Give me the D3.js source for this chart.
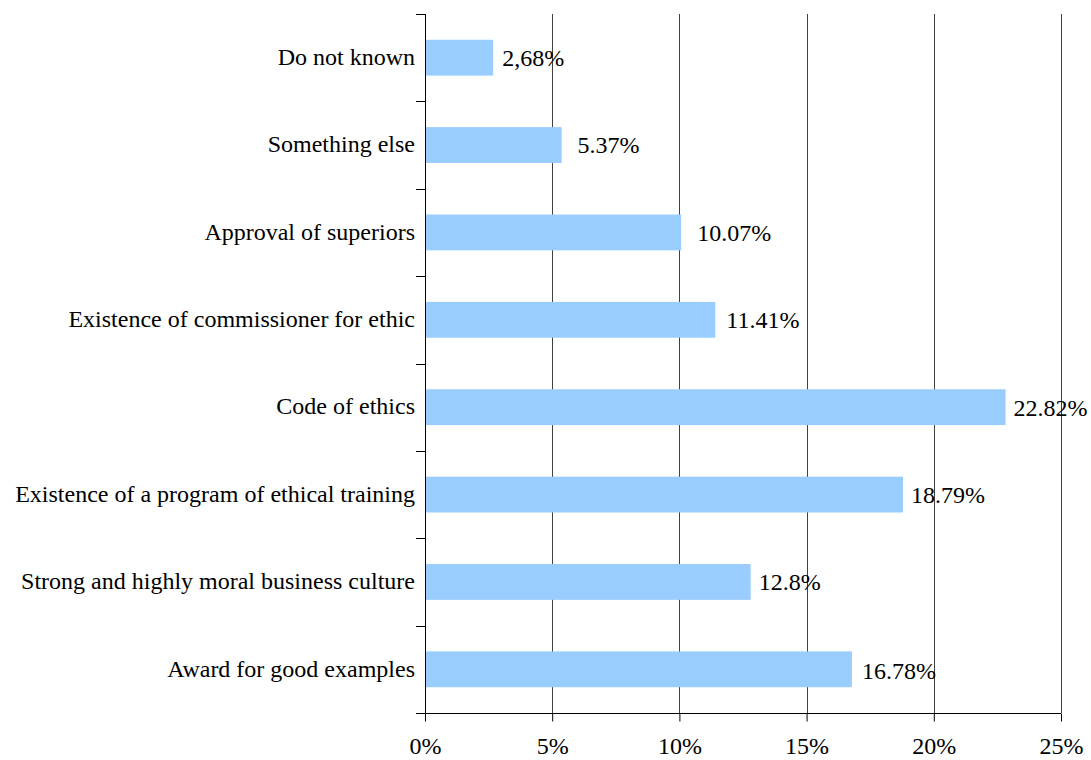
<!DOCTYPE html>
<html>
<head>
<meta charset="utf-8">
<script src="https://cdn.jsdelivr.net/npm/d3@7"></script>
<style>
  html, body { margin: 0; padding: 0; background: #ffffff; }
  svg { display: block; }
</style>
</head>
<body>
<svg id="chart" width="1091" height="760"></svg>
<script>
// Factors named in the survey, top to bottom
const categories = [
  "Do not known",
  "Something else",
  "Approval of superiors",
  "Existence of commissioner for ethic",
  "Code of ethics",
  "Existence of a program of ethical training",
  "Strong and highly moral business culture",
  "Award for good examples"
];
// Share of respondents (%)
const values = [2.68, 5.37, 10.07, 11.41, 22.82, 18.79, 12.8, 16.78];
// Value labels as printed
const valueLabels = ["2,68%", "5.37%", "10.07%", "11.41%", "22.82%", "18.79%", "12.8%", "16.78%"];
// Axis ticks
const tickValues = [0, 5, 10, 15, 20, 25];
const tickLabels = ["0%", "5%", "10%", "15%", "20%", "25%"];

const FONT = "'Liberation Serif', Tinos, 'Times New Roman', Times, 'Nimbus Roman', 'DejaVu Serif', serif";
const fontSize = 24;

const svg = d3.select("#chart");
const margin = { left: 425, right: 30, top: 14, bottom: 47 };
const W = 1091, H = 760;

const x = d3.scaleLinear().domain([0, 25]).range([margin.left, W - margin.right]);
const y = d3.scaleBand().domain(categories).range([margin.top, H - margin.bottom])
  .paddingInner(0.59).paddingOuter(0.295);

// Vertical gridlines
svg.append("g")
  .selectAll("line")
  .data(tickValues.slice(1))
  .join("line")
  .attr("x1", d => Math.round(x(d)) + 0.5)
  .attr("x2", d => Math.round(x(d)) + 0.5)
  .attr("y1", margin.top)
  .attr("y2", H - margin.bottom)
  .attr("stroke", "#404040")
  .attr("stroke-width", 1);

// Bars
svg.append("g")
  .selectAll("rect")
  .data(categories)
  .join("rect")
  .attr("x", x(0))
  .attr("y", d => y(d))
  .attr("width", (d, i) => x(values[i]) - x(0))
  .attr("height", y.bandwidth())
  .attr("fill", "#99CCFF");

// Bottom axis
const xAxis = d3.axisBottom(x)
  .tickValues(tickValues)
  .tickFormat((d, i) => tickLabels[i])
  .tickSize(8)
  .tickPadding(15);
const gx = svg.append("g")
  .attr("transform", `translate(0,${Math.round(H - margin.bottom) + 0.5})`)
  .call(xAxis);
gx.attr("font-family", FONT).attr("font-size", fontSize);
gx.select(".domain").attr("d", `M${margin.left - 9},0H${x(25)}`).attr("stroke", "#000");
gx.selectAll(".tick line").attr("stroke", "#000");
gx.selectAll(".tick text")
  .attr("font-family", FONT)
  .attr("font-size", fontSize)
  .attr("fill", "#000");

// Left axis: line with ticks at category boundaries
const boundaries = d3.range(categories.length + 1).map(i => margin.top + i * y.step());
const gy = svg.append("g");
gy.append("line")
  .attr("x1", Math.round(x(0)) + 0.5).attr("x2", Math.round(x(0)) + 0.5)
  .attr("y1", margin.top).attr("y2", H - margin.bottom)
  .attr("stroke", "#000");
gy.selectAll("line.b")
  .data(boundaries)
  .join("line")
  .attr("class", "b")
  .attr("x1", x(0) - 9).attr("x2", x(0))
  .attr("y1", d => Math.round(d) + 0.5).attr("y2", d => Math.round(d) + 0.5)
  .attr("stroke", "#000");

// Category labels
svg.append("g")
  .selectAll("text")
  .data(categories)
  .join("text")
  .attr("x", x(0) - 10)
  .attr("y", d => y(d) + y.bandwidth() / 2)
  .attr("dy", "0.3em")
  .attr("text-anchor", "end")
  .attr("font-family", FONT)
  .attr("font-size", fontSize)
  .attr("fill", "#000")
  .text(d => d);

// Value labels to the right of each bar
const labelGaps = [9, 16, 16, 11, 8, 8, 8, 10];
svg.append("g")
  .selectAll("text")
  .data(categories)
  .join("text")
  .attr("x", (d, i) => x(values[i]) + labelGaps[i])
  .attr("y", d => y(d) + y.bandwidth() / 2)
  .attr("dy", (d, i) => i === 7 ? "0.42em" : "0.35em")
  .attr("font-family", FONT)
  .attr("font-size", fontSize)
  .attr("fill", "#000")
  .text((d, i) => valueLabels[i]);
</script>
</body>
</html>
